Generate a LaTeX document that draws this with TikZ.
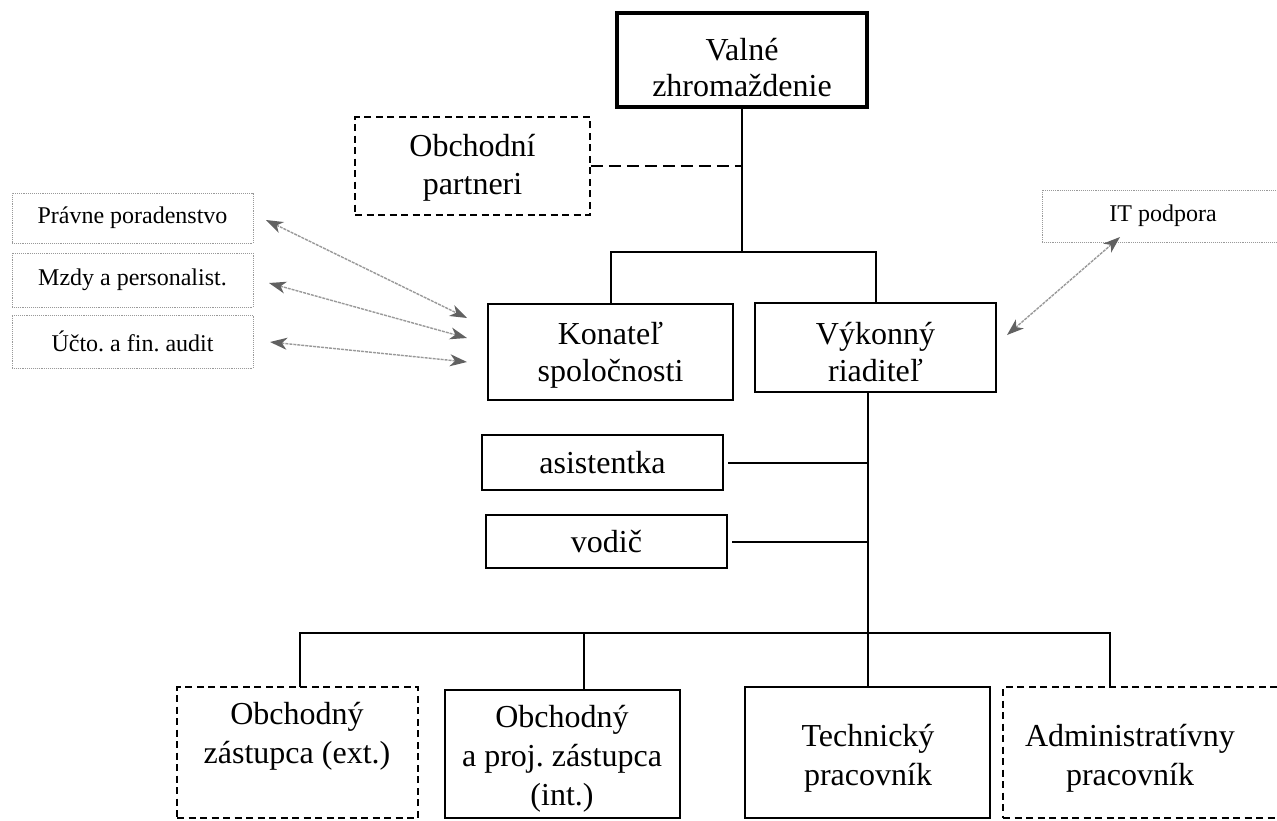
\documentclass[tikz,border=0pt]{standalone}
\usepackage{fontspec}
\setmainfont{Liberation Serif}
\usetikzlibrary{arrows.meta}
\frenchspacing
\begin{document}
\frenchspacing
\begin{tikzpicture}[x=1pt,y=-1pt,
  box/.style={draw, line width=2.2pt, align=center, inner sep=0pt, font=\fontsize{32}{37}\selectfont},
  dashbox/.style={dash pattern=on 7pt off 4.5pt, line width=1.8pt},
  small/.style={draw=black!40, densely dotted, line width=0.9pt, inner sep=0pt, minimum width=241pt, font=\fontsize{24}{28}\selectfont},
  txt/.style={align=center, inner sep=0pt, font=\fontsize{32}{39}\selectfont},
  conn/.style={line width=2pt},
  dbl/.style={draw=black!40, line width=1.4pt, dash pattern=on 3pt off 1pt,
    {Stealth[length=17pt,width=12pt,inset=5pt,color=black!62]}-{Stealth[length=17pt,width=12pt,inset=5pt,color=black!62]}}
]
\clip (0,0) rectangle (1277,820);
\fill[white] (0,0) rectangle (1277,820);

% top
\node[box, line width=3.2pt, minimum width=250pt, minimum height=94pt] (valne) at (742,60) {};
\node[txt, font=\fontsize{32}{36}\selectfont] (valneT) at (742,68) {Valné\\zhromaždenie};
\node[box, dashbox, minimum width=235pt, minimum height=98pt] (partner) at (472.5,166) {};
\node[txt, font=\fontsize{32}{38}\selectfont] (partnerT) at (472.5,168) {Obchodní\\partneri};

% management
\node[box, minimum width=245pt, minimum height=96pt] (konatel) at (610.5,352) {};
\node[txt, font=\fontsize{32}{37}\selectfont] (konatelT) at (610.5,355) {Konateľ\\spoločnosti};
\node[box, minimum width=241pt, minimum height=89pt] (vyk) at (875.5,347.5) {};
\node[txt, font=\fontsize{32}{37}\selectfont] (vykT) at (875.5,352) {Výkonný\\riaditeľ};
\node[box, minimum width=241pt, minimum height=55pt] (asist) at (602.5,462.5) {asistentka};
\node[box, minimum width=241pt, minimum height=53pt] (vodic) at (606.5,541.5) {vodič};

% external services
\node[small, minimum height=50pt] (pravne) at (132.5,218) {Právne poradenstvo};
\node[small, minimum height=54pt] (mzdy) at (132.5,280) {Mzdy a personalist.};
\node[small, minimum height=53pt] (ucto) at (132.5,341.5) {Účto. a fin. audit};
\node[small, minimum height=52pt, minimum width=242pt] (it) at (1163,216) {IT podpora};

% bottom row
\node[box, dashbox, minimum width=241pt, minimum height=131pt] (ext) at (297.5,752.5) {};
\node[box, minimum width=235pt, minimum height=128pt] (int) at (562.5,754) {};
\node[box, minimum width=245pt, minimum height=131pt] (tech) at (867.5,752.5) {};
\node[box, dashbox, minimum width=290pt, minimum height=131pt] (adm) at (1148,752.5) {};
\node[txt] (extT) at (297,736) {Obchodný\\zástupca (ext.)};
\node[txt] (intT) at (562,759) {Obchodný\\a proj. zástupca\\(int.)};
\node[txt] (techT) at (868,758) {Technický\\pracovník};
\node[txt] (admT) at (1130,758) {Administratívny\\pracovník};

% connectors
\draw[conn] (valne.south) -- ++(0,143) coordinate (barmid);
\draw[conn] (konatel.north) |- (barmid) -| (vyk.north);
\draw[conn, dash pattern=on 12pt off 6pt] (partner.east) -- (partner.east -| valne.south);

\draw[conn] (vyk.south -| tech.north) -- (tech.north);
\draw[conn] ([xshift=4pt]asist.east) -- (asist.east -| tech.north);
\draw[conn] ([xshift=4pt]vodic.east) -- (vodic.east -| tech.north);

\path (tech.north) ++(0,-53) coordinate (busT);
\coordinate (extTop) at (300,687);
\coordinate (intTop) at (584,690);
\coordinate (admTop) at (1110,687);
\draw[conn] (extTop) |- (busT) -| (admTop);
\draw[conn] (intTop) -- (intTop |- busT);

% arrows
\coordinate (a1s) at (266,220);
\coordinate (a1e) at (467,318);
\coordinate (a2s) at (269,283);
\coordinate (a2e) at (467,338);
\coordinate (a3s) at (270,342);
\coordinate (a3e) at (467,362);
\coordinate (a4s) at (1120,237);
\coordinate (a4e) at (1007,335);
\draw[dbl] (a1s) -- (a1e);
\draw[dbl] (a2s) -- (a2e);
\draw[dbl] (a3s) -- (a3e);
\draw[dbl] (a4s) -- (a4e);
\end{tikzpicture}
\end{document}
